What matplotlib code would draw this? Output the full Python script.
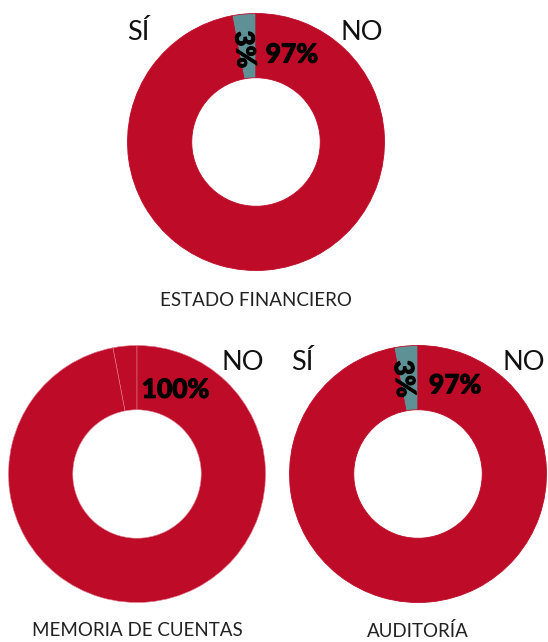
import numpy as np
import matplotlib.pyplot as plt
import matplotlib.patheffects as pe

# data
respuestas = ['SÍ', 'NO']
estado = [3, 97]
memoria = [3, 97]          # drawn as two red slices, labelled 100%
auditoria = [3, 97]
titulos = ['ESTADO FINANCIERO', 'MEMORIA DE CUENTAS', 'AUDITORÍA']

RED = '#BE0B28'
TEAL = '#5E9196'

W, H = 548, 642
fig = plt.figure(figsize=(W / 100, H / 100), dpi=100)

R = 128.5  # outer radius in px


def donut(cx, cy, vals, colors, edge, lw=0.6):
    ax = fig.add_axes([(cx - R) / W, 1 - (cy + R) / H, 2 * R / W, 2 * R / H])
    ax.pie(vals, colors=colors, startangle=90, counterclock=True, radius=1,
           wedgeprops=dict(width=0.5, edgecolor=edge, linewidth=lw))
    ax.set_xlim(-1, 1)
    ax.set_ylim(-1, 1)
    ax.set_aspect('equal')
    ax.axis('off')
    return ax


bold = [pe.withStroke(linewidth=0.7, foreground='black')]
lab = dict(family='Lato', weight='normal', fontsize=19.5, ha='center', va='center', color='#111111')
pct = dict(family='Lato', weight='black', fontsize=19, ha='center', va='center', color='black',
           path_effects=bold)
tit = dict(family='Lato', weight='normal', fontsize=13.5, ha='center', va='center', color='#222222')

# top donut
ax = donut(256, 142, estado, [TEAL, RED], RED)
ax.text(-0.92, 0.856, respuestas[0], **lab)
ax.text(0.825, 0.856, respuestas[1], **lab)
ax.text(0.28, 0.68, f'{estado[1]}%', **pct)
ax.text(-0.09, 0.72, f'{estado[0]}%', rotation=-85, **pct)
fig.text(256 / W, 1 - 300 / H, titulos[0], **tit)

# bottom left
ax = donut(137, 474, memoria, [RED, RED], '#E07A8C', lw=0.4)
ax.text(0.825, 0.87, respuestas[1], **lab)
ax.text(0.30, 0.655, f'{sum(memoria)}%', **pct)
fig.text(137 / W, 1 - 631 / H, titulos[1], **tit)

# bottom right
ax = donut(418, 474, auditoria, [TEAL, RED], RED)
ax.text(-0.90, 0.87, respuestas[0], **lab)
ax.text(0.82, 0.87, respuestas[1], **lab)
ax.text(0.29, 0.69, f'{auditoria[1]}%', **pct)
ax.text(-0.11, 0.74, f'{auditoria[0]}%', rotation=-85, **pct)
fig.text(418 / W, 1 - 631 / H, titulos[2], **tit)

fig.savefig('out.png', dpi=100)
